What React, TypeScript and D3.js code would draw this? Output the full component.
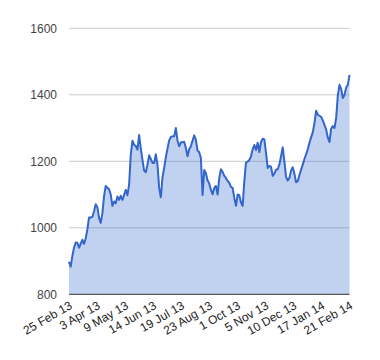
import React from "react";
import * as d3 from "d3";

const tickLabels = ["25 Feb 13", "3 Apr 13", "9 May 13", "14 Jun 13", "19 Jul 13", "23 Aug 13", "1 Oct 13", "5 Nov 13", "10 Dec 13", "17 Jan 14", "21 Feb 14"];
const yTicks = [800, 1000, 1200, 1400, 1600];
const values = [
  898, 883, 915, 940, 956, 955, 940, 952, 964, 952, 968, 995, 1031, 1031, 1033, 1050, 1071, 1062, 1030, 1015,
  1044, 1095, 1126, 1120, 1116, 1100, 1066, 1079, 1074, 1094, 1084, 1096, 1084, 1099, 1114, 1098, 1130, 1220, 1262, 1250,
  1246, 1235, 1279, 1239, 1204, 1172, 1167, 1190, 1218, 1207, 1195, 1195, 1221, 1190, 1120, 1092, 1152, 1180, 1212, 1238,
  1263, 1273, 1275, 1275, 1300, 1262, 1245, 1257, 1257, 1259, 1240, 1215, 1236, 1245, 1262, 1278, 1264, 1232, 1227, 1210,
  1099, 1174, 1164, 1142, 1133, 1114, 1101, 1120, 1126, 1100, 1150, 1176, 1168, 1156, 1150, 1141, 1135, 1123, 1120, 1090,
  1066, 1100, 1098, 1076, 1066, 1140, 1196, 1199, 1204, 1215, 1236, 1249, 1234, 1256, 1228, 1258, 1268, 1266, 1226, 1180,
  1186, 1184, 1156, 1163, 1175, 1176, 1190, 1215, 1242, 1200, 1153, 1142, 1150, 1172, 1182, 1163, 1137, 1140, 1158, 1175,
  1190, 1207, 1221, 1236, 1256, 1272, 1287, 1315, 1352, 1340, 1337, 1334, 1323, 1310, 1296, 1272, 1258, 1298, 1306, 1300,
  1330, 1398, 1430, 1418, 1390, 1400, 1422, 1430, 1460,
];

const W = 380;
const H = 360;
const left = 69;
const right = 349.5;
const top = 28.3;
const bottom = 294.3;

export default function App() {
  const x = d3.scaleLinear().domain([0, values.length - 1]).range([left, right]);
  const y = d3.scaleLinear().domain([800, 1600]).range([bottom, top]);
  const tx = d3.scaleLinear().domain([0, tickLabels.length - 1]).range([left, right]);
  const area = d3.area<number>().x((_, i) => x(i)).y0(y(800)).y1((d) => y(d));
  const line = d3.line<number>().x((_, i) => x(i)).y((d) => y(d));
  const font = "Arial, 'Liberation Sans', sans-serif";
  return (
    <svg width={W} height={H} style={{ position: "absolute", left: 0, top: 0, background: "#fff" }}>
      {yTicks.map((t) => (
        <g key={t}>
          {t !== 800 && <line x1={left} x2={right} y1={y(t)} y2={y(t)} stroke="#cccccc" strokeWidth={1} />}
          <text x={57} y={y(t)} dy="0.35em" textAnchor="end" fontFamily={font} fontSize={12} fill="#444">
            {t}
          </text>
        </g>
      ))}
      <path d={area(values) || ""} fill="#3366cc" fillOpacity={0.3} />
      <path d={line(values) || ""} fill="none" stroke="#3366cc" strokeWidth={2} strokeLinejoin="round" />
      <line x1={left} x2={right} y1={y(800)} y2={y(800)} stroke="#333" strokeWidth={1} />
      {tickLabels.map((l, i) => (
        <text
          key={l}
          transform={`translate(${tx(i) + 2},${bottom + 10}) rotate(-30)`}
          textAnchor="end"
          dy="0.35em"
          fontFamily={font}
          fontSize={12}
          fill="#222"
        >
          {l}
        </text>
      ))}
    </svg>
  );
}
